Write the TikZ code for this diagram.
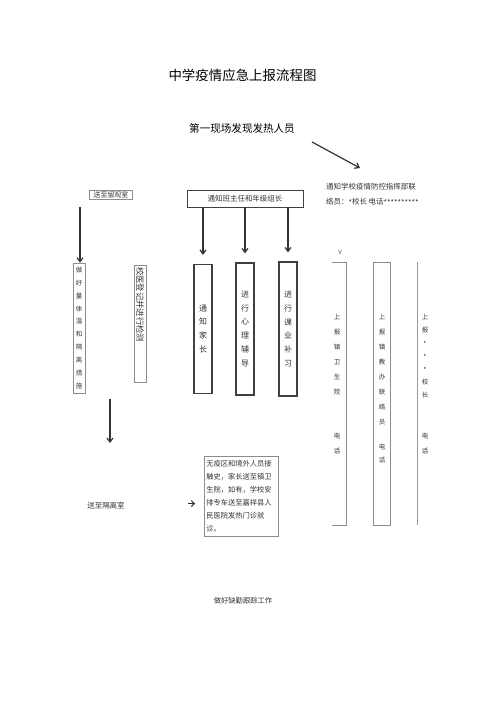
\documentclass[tikz,border=0pt]{standalone}
\usepackage{fontspec}
\setmainfont{Noto Sans CJK SC}
\usetikzlibrary{arrows.meta}
\usetikzlibrary{positioning}
\newcommand\lowast{\raisebox{-0.35ex}{*}}
\tikzset{
  MyThin/.style={
    rectangle, draw=black!45, line width=0.6bp,
    inner sep=0pt, text=black!80,
  },
  MyThick/.style={
    rectangle, draw=black!75, line width=1.2bp,
    inner sep=0pt, text=black!80,
  },
  MyCol/.style={
    inner sep=0pt, align=center, text=black!80,
  },
  MyArrow/.style={
    -{Straight Barb[length=4bp,width=6bp]}, line width=1.2bp, draw=black!80,
  },
}

\begin{document}
\begin{tikzpicture}[x=1bp,y=-1bp]
\useasboundingbox (0,0) rectangle (500,708);
\node[font=\fontsize{13.5}{16}\selectfont] (TITLE) at (242.5,75) {中学疫情应急上报流程图};
\node[font=\fontsize{10.6}{13}\selectfont] (FIND) at (242,128) {第一现场发现发热人员};
\node[anchor=north west, align=left, inner sep=0pt, text=black!80, font=\fontsize{7.5}{15}\selectfont] (ZHB) at (326,183) {通知学校疫情防控指挥部联\\络员：\lowast 校长 电话\lowast\lowast\lowast\lowast\lowast\lowast\lowast\lowast\lowast\lowast};
\coordinate (FS) at (312,142);
\coordinate (FE) at (360,168);
\draw[MyArrow] (FS) -- (FE);
\node[MyThin, minimum width=43bp, minimum height=9bp, font=\fontsize{7}{8}\selectfont] (LGS) at (111,195) {送至留观室};
\node[rectangle, draw=black!75, line width=0.9bp, minimum width=116bp, minimum height=17bp, text=black!80, font=\fontsize{7.5}{9}\selectfont] (BZR) at (245,198.5) {通知班主任和年级组长};
\node[MyThin, minimum width=12bp, minimum height=130bp, align=center, font=\fontsize{6.5}{13}\selectfont] (CL) at (79,328) {做\\好\\量\\体\\温\\和\\隔\\离\\措\\施};
\node[MyThin, rotate=-90, minimum width=117bp, minimum height=12bp, text width=113bp, align=left, font=\fontsize{8.4}{9}\selectfont] (JC) at (140,323.5) {校医登记并进行检测};
\node[MyThick, minimum width=18bp, minimum height=129bp, align=center, font=\fontsize{8}{14}\selectfont] (JZ) at (203,329) {通\\知\\家\\长};
\node[MyThick, minimum width=18bp, minimum height=132bp, align=center, font=\fontsize{8}{14}\selectfont] (XL) at (245,329) {进\\行\\心\\理\\辅\\导};
\node[MyThick, minimum width=18bp, minimum height=134bp, align=center, font=\fontsize{8}{14}\selectfont] (KY) at (288,329) {进\\行\\课\\业\\补\\习};
\foreach \n in {JZ,XL,KY}
  \draw[MyArrow, shorten >=9bp] (BZR.south -| \n) -- (\n.north);
\coordinate (LA) at (80,207);
\draw[MyArrow] (LA) -- (LA |- CL.north);
% right columns
\node[font=\fontsize{6}{7}\selectfont, text=black!70] (VV) at (340,252) {V};
\node[minimum width=14bp, minimum height=263bp, inner sep=0pt] (WSY) at (339,393.5) {};
\draw[black!45, line width=0.6bp] (WSY.north west) -| (WSY.south east) -- (WSY.south west);
\node[MyCol, anchor=north, font=\fontsize{6.5}{15}\selectfont] (WSYT) at (337,314) {上\\报\\镇\\卫\\生\\院\\[29bp]电\\话};
\node[MyThin, minimum width=17bp, minimum height=263bp] (JBF) at (381.5,393.5) {};
\node[MyCol, anchor=north, font=\fontsize{6.5}{15}\selectfont] (JBFT) at (382,314) {上\\报\\镇\\教\\办\\联\\络\\员\\[10bp]电\\[-2bp]话};
\node[minimum width=0bp, minimum height=263bp, inner sep=0pt] (XZ) at (417,393.5) {};
\draw[black!40, line width=0.7bp] (XZ.north) -- (XZ.south);
\node[MyCol, anchor=north, font=\fontsize{6.5}{13}\selectfont] (XZT) at (425,314) {上\\报\\\lowast\\\lowast\\\lowast\\校\\长\\[28bp]电\\[2bp]话};
% bottom
\coordinate (DS) at (110,399);
\coordinate (DE) at (110,443);
\draw[MyArrow] (DS) -- (DE);
\node[font=\fontsize{7.5}{9}\selectfont, text=black!80] (GLS) at (106,506) {送至隔离室};
\coordinate (SS) at (188,503.5);
\coordinate (SE) at (195,503.5);
\draw[-{Straight Barb[length=3bp,width=6bp]}, line width=1bp, draw=black!85] (SS) -- (SE);
\node[MyThin, anchor=north west, text width=70bp, inner sep=2bp, minimum height=80bp, align=left, font=\fontsize{7.3}{13.2}\selectfont] (JY) at (204,456) {无疫区和境外人员接\\触史，家长送至镇卫\\生院，如有，学校安\\排专车送至嘉祥县人\\民医院发热门诊就\\诊。};
\node[font=\fontsize{7.3}{9}\selectfont, text=black!80] (GZ) at (243,601) {做好缺勤跟踪工作};
\end{tikzpicture}
\end{document}
